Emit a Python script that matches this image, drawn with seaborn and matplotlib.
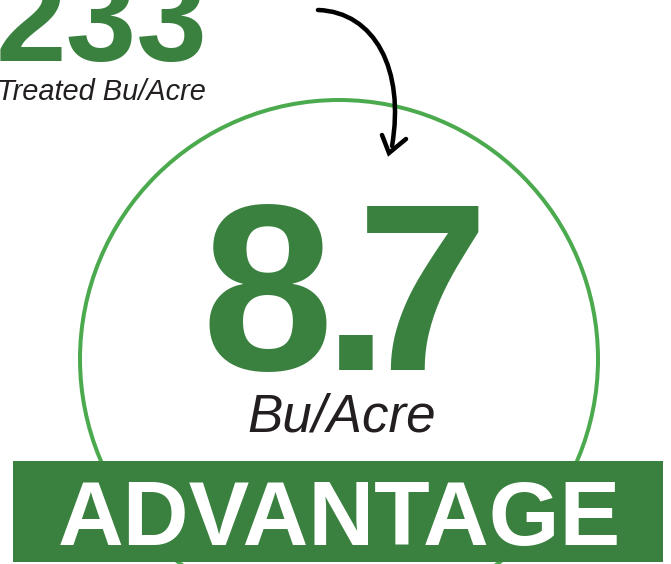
import matplotlib
matplotlib.use("Agg")
import matplotlib.pyplot as plt
import seaborn as sns
from matplotlib.patches import Circle, Rectangle, PathPatch
from matplotlib.path import Path

# values shown on the graphic
treated_yield = "233"
treated_label = "Treated Bu/Acre"
advantage_value = ["8", ".", "7"]
advantage_unit = "Bu/Acre"
banner_text = "ADVANTAGE"

dark_green = "#3a8140"
ring_green = "#4caa4e"

sns.set_theme(style="white")
plt.rcParams["font.family"] = ["Liberation Sans", "DejaVu Sans"]

W, H = 671, 564
fig = plt.figure(figsize=(W / 100, H / 100), dpi=100)
ax = fig.add_axes([0, 0, 1, 1])
ax.set_xlim(0, W)
ax.set_ylim(H, 0)
ax.axis("off")

PX = 0.72  # pixels -> points at 100 dpi

# big ring
ax.add_patch(Circle((339, 359), 259, fill=False, ec=ring_green, lw=4 * PX, zorder=1))

# top-left number
ax.text(-4, 61, treated_yield, fontsize=127 * PX, fontweight="bold", color=dark_green,
        ha="left", va="baseline", zorder=3)
ax.text(-3, 100, treated_label, fontsize=29 * PX, fontstyle="italic", color="#231f20",
        ha="left", va="baseline", zorder=3)

# curved arrow
verts = [(318, 10), (375, 12), (405, 70), (392, 146)]
codes = [Path.MOVETO, Path.CURVE4, Path.CURVE4, Path.CURVE4]
ax.add_patch(PathPatch(Path(verts, codes), fill=False, ec="black", lw=4.5 * PX,
                       capstyle="round", zorder=4))
head = Path([(382, 135), (389, 153), (406, 139)], [Path.MOVETO, Path.LINETO, Path.LINETO])
ax.add_patch(PathPatch(head, fill=False, ec="black", lw=4.5 * PX, capstyle="round",
                       joinstyle="miter", zorder=4))

# 8.7 with tight spacing
centers = [267, 356, 423]
for ch, cx in zip(advantage_value, centers):
    ax.text(cx, 370, ch, fontsize=237 * PX, fontweight="bold", color=dark_green,
            ha="center", va="baseline", zorder=3)

ax.text(342, 432, advantage_unit, fontsize=53 * PX, fontstyle="italic", color="#231f20",
        ha="center", va="baseline", zorder=3)

# banner
ax.add_patch(Rectangle((13, 461), 650, 101, fc=dark_green, ec="none", zorder=2))
ax.text(339, 545, banner_text, fontsize=91 * PX, fontweight="bold", color="white",
        ha="center", va="baseline", zorder=3)

fig.savefig("out.png", dpi=100, facecolor="white")
